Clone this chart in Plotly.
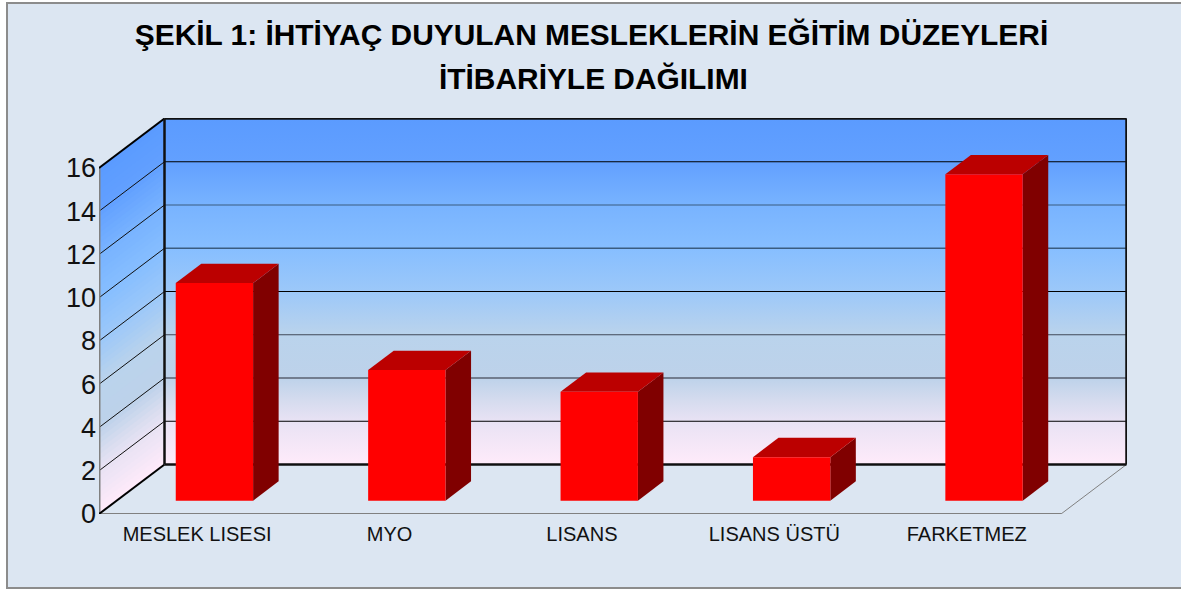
import plotly.graph_objects as go

CATEGORIES = ["MESLEK LISESI", "MYO", "LISANS", "LISANS ÜSTÜ", "FARKETMEZ"]
VALUES = [10, 6, 5, 2, 15]
Y_TICKS = [0, 2, 4, 6, 8, 10, 12, 14, 16]
TITLE_LINES = ["ŞEKİL 1: İHTİYAÇ DUYULAN MESLEKLERİN EĞİTİM DÜZEYLERİ", "İTİBARİYLE DAĞILIMI"]
WALL_SCALE = [[0.0, "#FFEBFA"], [0.127, "#E8E2F4"], [0.188, "#D4DBEE"], [0.25, "#BDD2EA"],
              [0.376, "#BAD3EC"], [0.5, "#9CC8F9"], [0.627, "#86BEFF"], [0.75, "#78B3FF"],
              [0.875, "#62A0FF"], [1.0, "#5B9BFF"]]
GRID_COLORS = {2: "#000000", 4: "#5A6070", 6: "#404858", 8: "#000000",
               10: "#3A5C80", 12: "#3A5C80", 14: "#000000"}
GRID_WIDTHS = {2: 1, 4: 1.6, 6: 1, 8: 1, 10: 1.6, 12: 1.2, 14: 1}

W, H = 1181, 590
L, R, T, B = 99, 1127, 118, 514          # plot area in page pixels
PX_CAT = 192.4                            # pixels per category
PX_VAL = 21.625                           # pixels per value unit
DX = 65.5 / PX_CAT                        # depth shift along x, in category units
DY = 49.5 / PX_VAL                        # depth shift along y, in value units
N = len(CATEGORIES)
VMAX = Y_TICKS[-1]


def proj(c, v, d=0.0):
    return c + d * DX, v + d * DY


def poly(points, **kw):
    xs, ys = zip(*[proj(*p) for p in points])
    return go.Scatter(x=list(xs) + [xs[0]], y=list(ys) + [ys[0]], mode="lines", fill="toself",
                      hoverinfo="skip", showlegend=False, cliponaxis=False, **kw)


def seg(a, b, color, width):
    xs, ys = zip(*[proj(*p) for p in (a, b)])
    return go.Scatter(x=xs, y=ys, mode="lines", line=dict(color=color, width=width),
                      hoverinfo="skip", showlegend=False, cliponaxis=False)


def hex2rgb(h):
    return tuple(int(h[i:i + 2], 16) for i in (1, 3, 5))


def scale_color(t):
    for (t0, c0), (t1, c1) in zip(WALL_SCALE, WALL_SCALE[1:]):
        if t <= t1:
            f = (t - t0) / (t1 - t0)
            a, b = hex2rgb(c0), hex2rgb(c1)
            return "rgb(%d,%d,%d)" % tuple(round(a[i] + (b[i] - a[i]) * f) for i in range(3))
    return WALL_SCALE[-1][1]


fig = go.Figure()

# back wall
fig.add_trace(poly([(0, 0, 1), (N, 0, 1), (N, VMAX, 1), (0, VMAX, 1)],
                   line=dict(width=0), fillcolor="#80BBFF",
                   fillgradient=dict(type="vertical", colorscale=WALL_SCALE,
                                     start=DY, stop=VMAX + DY)))
# left wall as thin bands so that its gradient follows the skew
BANDS = 64
for k in range(BANDS):
    v0 = VMAX * k / BANDS
    v1 = min(VMAX * (k + 1.4) / BANDS, VMAX)
    fig.add_trace(poly([(0, v0, 0), (0, v0, 1), (0, v1, 1), (0, v1, 0)],
                       line=dict(width=0), fillcolor=scale_color((k + 0.5) / BANDS)))

# gridlines
for t in Y_TICKS[1:-1]:
    fig.add_trace(seg((0, t, 1), (N, t, 1), GRID_COLORS[t], GRID_WIDTHS[t]))
    fig.add_trace(seg((0, t, 0), (0, t, 1), "#101010", 1))

# frame
fig.add_trace(seg((0, 0, 0), (N, 0, 0), "#808080", 2))
fig.add_trace(seg((N, 0, 0), (N, 0, 1), "#808080", 1))
fig.add_trace(seg((0, 0, 0), (0, VMAX, 0), "#808080", 3))
fig.add_trace(seg((0, 0, 0), (0, 0, 1), "#000000", 2))
fig.add_trace(seg((0, VMAX, 0), (0, VMAX, 1), "#000000", 2))
fig.add_trace(seg((0, 0, 1), (N, 0, 1), "#101010", 2.5))
fig.add_trace(seg((0, VMAX, 1), (N, VMAX, 1), "#101010", 2.5))
fig.add_trace(seg((0, 0, 1), (0, VMAX, 1), "#101010", 2.5))
fig.add_trace(seg((N, 0, 1), (N, VMAX, 1), "#101010", 2.5))

# bars
BAR_W = 0.402
D0, D1 = 0.27, 0.66
SHIFT = 0.008
HEIGHT_FIX = 1.006
for i, val in enumerate(VALUES):
    v = val * HEIGHT_FIX
    c0 = i + 0.5 - BAR_W / 2 + SHIFT
    c1 = c0 + BAR_W
    fig.add_trace(poly([(c1, 0, D0), (c1, 0, D1), (c1, v, D1), (c1, v, D0)],
                       line=dict(width=0), fillcolor="#800000"))
    fig.add_trace(poly([(c0, v, D0), (c1, v, D0), (c1, v, D1), (c0, v, D1)],
                       line=dict(width=0), fillcolor="#BB0000"))
    fig.add_trace(poly([(c0, 0, D0), (c1, 0, D0), (c1, v, D0), (c0, v, D0)],
                       line=dict(width=0), fillcolor="#FF0000"))


def page_x(px):
    return (px - L) / (R - L)


def page_y(py):
    return (B - py) / (B - T)


fig.update_layout(
    width=W, height=H, autosize=False,
    margin=dict(l=L, r=W - R, t=T, b=H - B),
    paper_bgcolor="#FFFFFF", plot_bgcolor="rgba(0,0,0,0)",
    showlegend=False,
    font=dict(family="Liberation Sans, Arial, sans-serif", color="#111111"),
    xaxis=dict(range=[0, (R - L) / PX_CAT], tickmode="array",
               tickvals=[i + 0.51 for i in range(N)], ticktext=CATEGORIES,
               tickfont=dict(size=20), showgrid=False, zeroline=False, showline=False,
               ticks="", ticklabelstandoff=6, fixedrange=True),
    yaxis=dict(range=[0, (B - T) / PX_VAL], tickmode="array",
               tickvals=Y_TICKS, ticktext=[str(t) for t in Y_TICKS],
               tickfont=dict(size=27), showgrid=False, zeroline=False, showline=False,
               ticks="", ticklabelstandoff=2, fixedrange=True),
    title=dict(text="<b>%s</b>" % TITLE_LINES[0], x=591.5 / W, xanchor="center",
               y=1 - 35 / H, yanchor="middle",
               font=dict(size=29.9, color="#000000")),
    annotations=[dict(text="<b>%s</b>" % TITLE_LINES[1], xref="paper", yref="paper",
                      x=page_x(593.5), y=page_y(78), xanchor="center", yanchor="middle",
                      showarrow=False, font=dict(size=29.9, color="#000000"))],
    shapes=[dict(type="rect", xref="paper", yref="paper", layer="below",
                 x0=page_x(7), x1=page_x(W + 20), y0=page_y(3), y1=page_y(588),
                 fillcolor="#DCE6F2", line=dict(color="#8C8C8C", width=2))],
)

fig.write_html("out.html", config={"displayModeBar": False},
               post_script="document.body.style.margin='0';document.body.style.overflow='hidden';")
